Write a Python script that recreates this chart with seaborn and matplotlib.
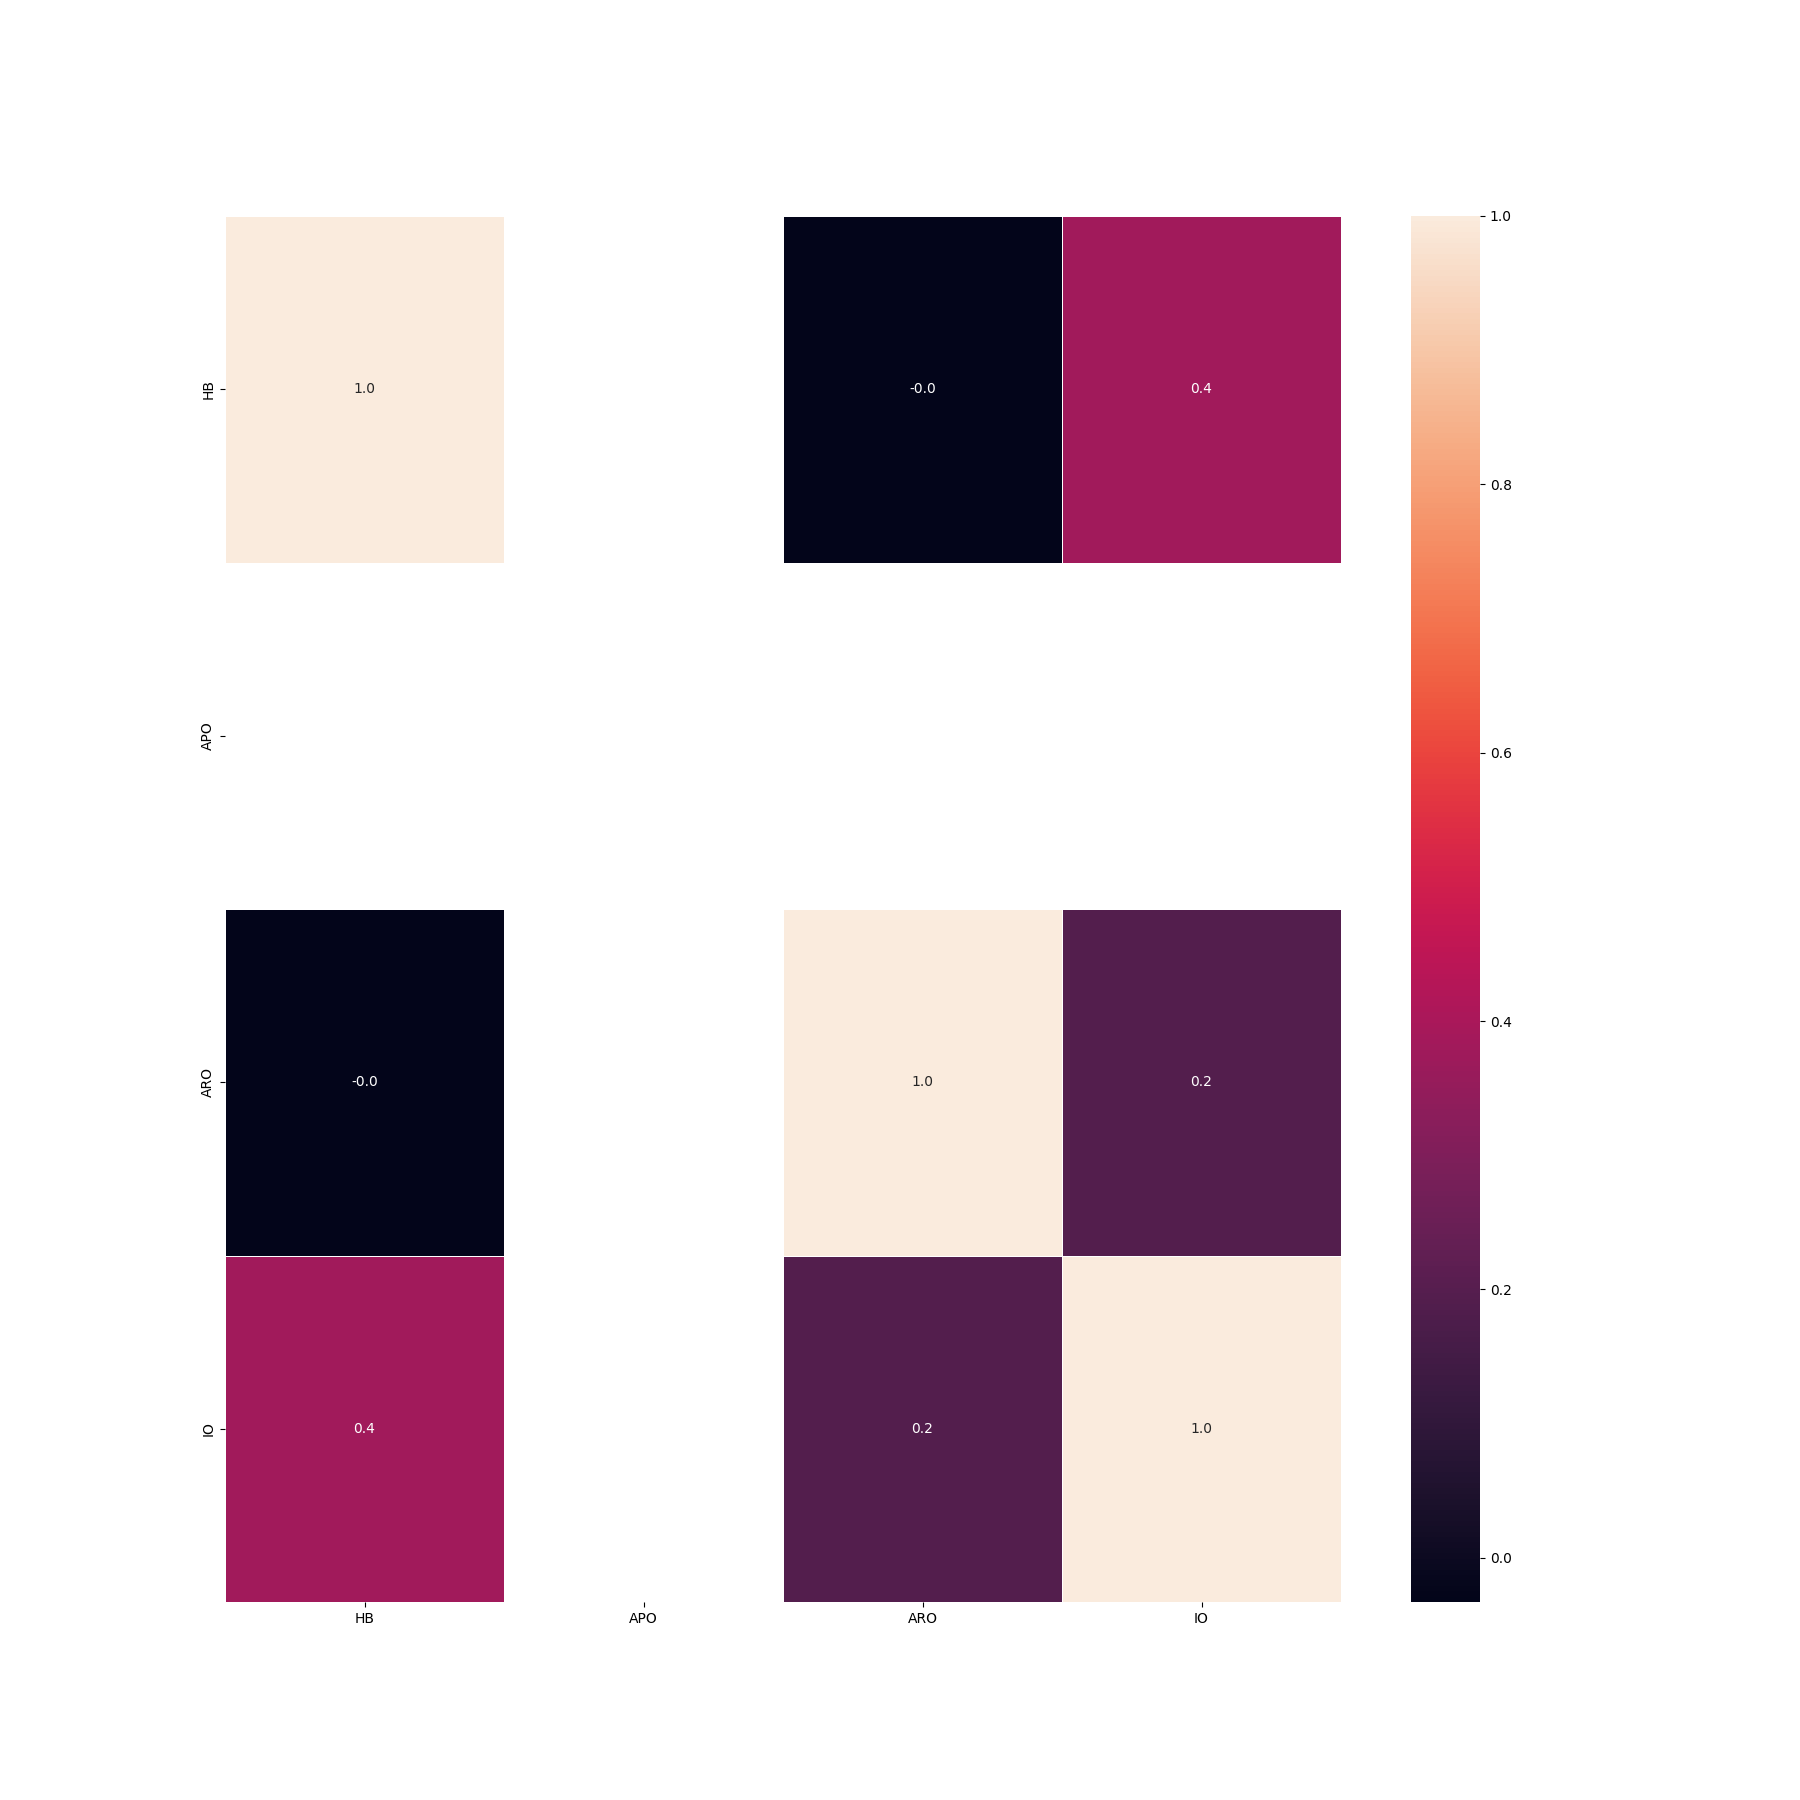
import numpy as np
import pandas as pd
import matplotlib
matplotlib.use("Agg")
import matplotlib.pyplot as plt
import seaborn as sns

labels = ["HB", "APO", "ARO", "IO"]
row_HB = [1.0, np.nan, -0.033, 0.38]
row_APO = [np.nan, np.nan, np.nan, np.nan]
row_ARO = [-0.033, np.nan, 1.0, 0.19]
row_IO = [0.38, np.nan, 0.19, 1.0]

corr = pd.DataFrame([row_HB, row_APO, row_ARO, row_IO], index=labels, columns=labels)

fig, ax = plt.subplots(figsize=(18, 18), dpi=100)
sns.heatmap(corr, annot=True, fmt=".1f", linewidths=0.5, ax=ax)
fig.savefig("out.png", dpi=100)
